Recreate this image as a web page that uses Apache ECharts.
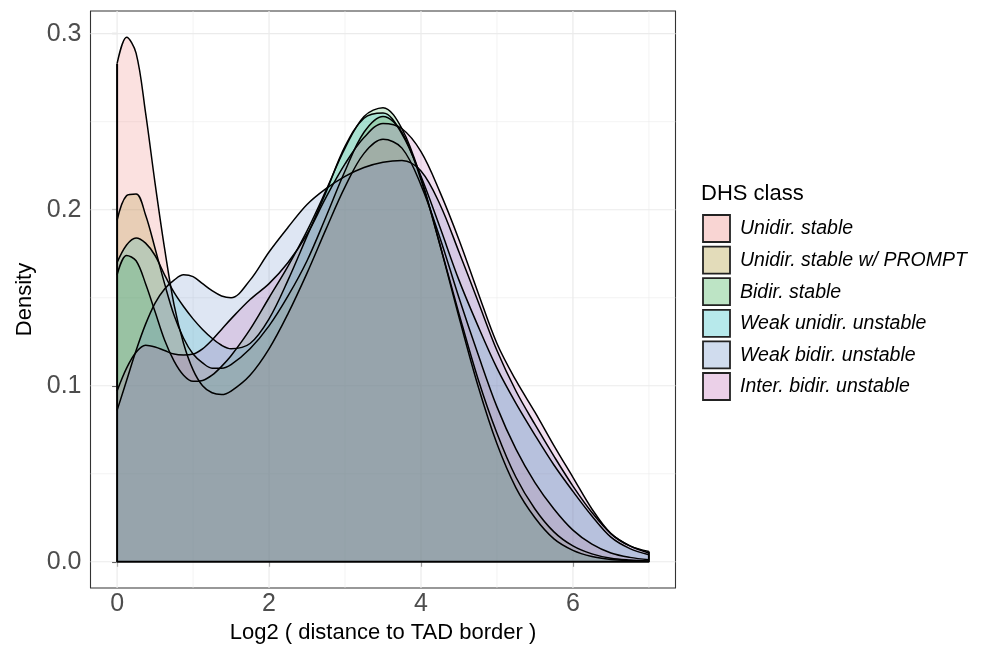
<!DOCTYPE html>
<html><head><meta charset="utf-8">
<script src="https://cdn.jsdelivr.net/npm/echarts@6/dist/echarts.min.js"></script>
<style>html,body{margin:0;padding:0;background:#fff}#c{width:998px;height:653px}</style>
</head><body><div id="c"></div>
<script>
// ---- data ----
const xs = [0,0.125,0.25,0.375,0.5,0.625,0.75,0.875,1,1.125,1.25,1.375,1.5,1.75,2,2.25,2.5,2.75,3,3.25,3.5,3.75,4,4.25,4.5,4.75,5,5.25,5.5,5.75,6,6.25,6.5,6.75,7];
const unidirStable = [0.283,0.298,0.289,0.255,0.215,0.178,0.146,0.124,0.109,0.100,0.096,0.095,0.097,0.106,0.121,0.141,0.164,0.189,0.213,0.232,0.240,0.235,0.214,0.184,0.150,0.118,0.088,0.064,0.045,0.030,0.018,0.010,0.005,0.0025,0.0012];
const unidirPrompt = [0.194,0.208,0.209,0.197,0.178,0.158,0.140,0.127,0.118,0.113,0.110,0.110,0.112,0.121,0.134,0.151,0.171,0.196,0.222,0.244,0.253,0.244,0.217,0.180,0.141,0.104,0.073,0.048,0.030,0.017,0.009,0.0045,0.002,0.001,0.0005];
const bidirStable = [0.163,0.174,0.171,0.158,0.142,0.126,0.114,0.106,0.1025,0.103,0.106,0.111,0.117,0.132,0.150,0.168,0.188,0.211,0.235,0.253,0.258,0.246,0.218,0.180,0.139,0.100,0.067,0.042,0.025,0.013,0.0065,0.003,0.0013,0.0006,0.0003];
const weakUnidir = [0.170,0.180,0.184,0.181,0.174,0.163,0.153,0.145,0.138,0.132,0.127,0.123,0.121,0.124,0.138,0.160,0.185,0.210,0.236,0.252,0.255,0.243,0.219,0.190,0.160,0.134,0.110,0.090,0.072,0.055,0.040,0.026,0.014,0.0075,0.004];
const weakBidir = [0.086,0.103,0.120,0.135,0.147,0.155,0.160,0.163,0.162,0.158,0.154,0.151,0.150,0.160,0.176,0.190,0.203,0.212,0.219,0.224,0.227,0.228,0.222,0.203,0.176,0.148,0.120,0.097,0.078,0.060,0.043,0.028,0.016,0.009,0.005];
const interBidir = [0.097,0.110,0.119,0.123,0.122,0.120,0.118,0.1175,0.118,0.121,0.126,0.132,0.138,0.149,0.158,0.170,0.186,0.207,0.226,0.241,0.249,0.246,0.233,0.210,0.183,0.153,0.124,0.103,0.085,0.066,0.048,0.030,0.016,0.009,0.0058];
const classNames = ["Unidir. stable","Unidir. stable w/ PROMPT","Bidir. stable","Weak unidir. unstable","Weak bidir. unstable","Inter. bidir. unstable"];
const xTicks = [0,2,4,6];
const xMinor = [1,3,5,7];
const yTicks = [0,0.1,0.2,0.3];
const yMinor = [0.05,0.15,0.25];

// ---- styles ----
const baseColors = [[235,115,108],[162,138,28],[35,165,62],[18,182,189],[99,139,198],[188,99,178]];
const ALPHA = 0.3;
const FONT = "'Liberation Sans', Arial, Helvetica, sans-serif";
const allSeries = [unidirStable, unidirPrompt, bidirStable, weakUnidir, weakBidir, interBidir];

const chart = echarts.init(document.getElementById('c'), null, {renderer:'canvas'});

const gridData = [];
xTicks.forEach(v=>gridData.push([v,0,'x',1]));
xMinor.forEach(v=>gridData.push([v,0,'x',0]));
yTicks.forEach(v=>gridData.push([0,v,'y',1]));
yMinor.forEach(v=>gridData.push([0,v,'y',0]));

const series = [{
  type:'custom', z:1, silent:true, clip:false,
  data: gridData,
  renderItem: function(params, api){
    const cs = params.coordSys;
    const kind = api.value(2), major = api.value(3);
    const w = major ? 1.2 : 0.6;
    if (kind === 'x') {
      const px = api.coord([api.value(0), 0])[0];
      return {type:'line', shape:{x1:px,y1:cs.y,x2:px,y2:cs.y+cs.height}, style:{stroke:'#ebebeb', lineWidth:w}};
    } else {
      const py = api.coord([0, api.value(1)])[1];
      return {type:'line', shape:{x1:cs.x,y1:py,x2:cs.x+cs.width,y2:py}, style:{stroke:'#ebebeb', lineWidth:w}};
    }
  }
}];

allSeries.forEach((arr, k)=>{
  const c = baseColors[k];
  series.push({
    type:'line', name: classNames[k], z:2,
    data: xs.map((x,i)=>[x, arr[i]]),
    smooth: 0.35, showSymbol:false, symbol:'none',
    lineStyle:{color:'#000', width:1.5},
    areaStyle:{color:`rgba(${c[0]},${c[1]},${c[2]},${ALPHA})`, origin:0},
    silent:true
  });
});

const firstMax = Math.max(...allSeries.map(a=>a[0]));
const lastMax = Math.max(...allSeries.map(a=>a[a.length-1]));
series.push({
  type:'line', z:3, silent:true, symbol:'none', smooth:false,
  data:[[xs[0], firstMax],[xs[0],0],[xs[xs.length-1],0],[xs[xs.length-1], lastMax]],
  lineStyle:{color:'#000', width:2}
});

// legend via graphic
const legendTop = 215, legendStep = 31.6;
const graphics = [{
  type:'text', left:701, top:183,
  style:{text:'DHS class', font:`22px ${FONT}`, fill:'#000'}
}];
classNames.forEach((n,k)=>{
  const c = baseColors[k];
  graphics.push({type:'rect', shape:{x:703, y:legendTop + k*legendStep, width:27, height:27},
    style:{fill:`rgba(${c[0]},${c[1]},${c[2]},${ALPHA})`, stroke:'#222', lineWidth:1.8}});
  graphics.push({type:'text', x:740, y:legendTop + k*legendStep + 14,
    style:{text:n, font:`italic 19.5px ${FONT}`, fill:'#000', textVerticalAlign:'middle'}});
});

chart.setOption({
  animation:false,
  backgroundColor:'#fff',
  grid:{left:90.5, top:11, width:585, height:577, show:true, borderColor:'#333', borderWidth:1.1, backgroundColor:'transparent'},
  xAxis:{type:'value', min:-0.35, max:7.35,
    axisLine:{show:false}, splitLine:{show:false},
    axisTick:{show:true, length:5, lineStyle:{color:'#333', width:1.1}, customValues:xTicks},
    axisLabel:{show:true, color:'#4d4d4d', fontSize:25, fontFamily:FONT, margin:4, customValues:xTicks, formatter:v=>String(v)},
    name:'Log2 ( distance to TAD border )', nameLocation:'middle', nameGap:28,
    nameTextStyle:{color:'#000', fontSize:22, fontFamily:FONT}
  },
  yAxis:{type:'value', min:-0.0149, max:0.3129,
    axisLine:{show:false}, splitLine:{show:false},
    axisTick:{show:true, length:5, lineStyle:{color:'#333', width:1.1}, customValues:yTicks},
    axisLabel:{show:true, color:'#4d4d4d', fontSize:25, fontFamily:FONT, margin:9, customValues:yTicks, formatter:v=>v.toFixed(1)},
    name:'Density', nameLocation:'middle', nameGap:53, nameRotate:90,
    nameTextStyle:{color:'#000', fontSize:22, fontFamily:FONT}
  },
  series: series,
  graphic: graphics
});
</script>
</body></html>
